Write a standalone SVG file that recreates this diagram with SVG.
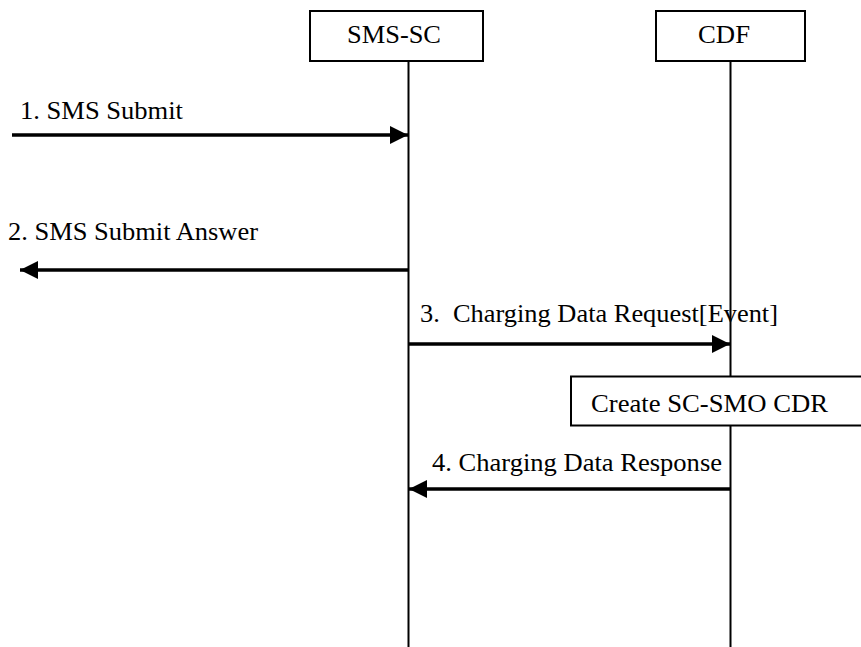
<svg xmlns="http://www.w3.org/2000/svg" width="861" height="647" viewBox="0 0 861 647">
<style>
text { font-family: "Liberation Serif", "Times New Roman", serif; font-size: 25px; fill: #000; white-space: pre; }
.box { fill: #fff; stroke: #000; stroke-width: 2; }
.life { stroke: #000; stroke-width: 2; fill: none; }
.msg { stroke: #000; stroke-width: 3.5; fill: none; }
</style>
<defs>
<marker id="ah" markerUnits="userSpaceOnUse" markerWidth="18" markerHeight="18" viewBox="0 0 16 16" refX="16" refY="8" orient="auto">
<path d="M0,0 L16,8 L0,16 Z" fill="#000"/>
</marker>
</defs>
<rect width="861" height="647" fill="#fff"/>
<g id="lifelines">
<line class="life" x1="408.5" y1="61" x2="408.5" y2="647"/>
<line class="life" x1="730.5" y1="61" x2="730.5" y2="376"/>
<line class="life" x1="730.5" y1="426" x2="730.5" y2="647"/>
</g>
<g id="node-smssc">
<rect class="box" x="310" y="11" width="173" height="50"/>
<text x="347" y="43" textLength="94" lengthAdjust="spacingAndGlyphs">SMS-SC</text>
</g>
<g id="node-cdf">
<rect class="box" x="656" y="11" width="149" height="50"/>
<text x="698" y="43" textLength="52" lengthAdjust="spacingAndGlyphs">CDF</text>
</g>
<g id="node-create">
<rect class="box" x="571" y="376.5" width="300" height="49"/>
<text x="591" y="412" textLength="237" lengthAdjust="spacingAndGlyphs">Create SC-SMO CDR</text>
</g>
<g id="connectors">
<line class="msg" x1="12" y1="135" x2="408" y2="135" marker-end="url(#ah)"/>
<line class="msg" x1="408" y1="270" x2="20" y2="270" marker-end="url(#ah)"/>
<line class="msg" x1="409" y1="344" x2="730" y2="344" marker-end="url(#ah)"/>
<line class="msg" x1="731" y1="489" x2="409" y2="489" marker-end="url(#ah)"/>
<text x="20" y="119" textLength="163" lengthAdjust="spacingAndGlyphs">1. SMS Submit</text>
<text x="8" y="240" textLength="250" lengthAdjust="spacingAndGlyphs">2. SMS Submit Answer</text>
<text x="420" y="322" textLength="358" lengthAdjust="spacingAndGlyphs">3.  Charging Data Request[Event]</text>
<text x="432" y="471" textLength="290" lengthAdjust="spacingAndGlyphs">4. Charging Data Response</text>
</g>
</svg>
